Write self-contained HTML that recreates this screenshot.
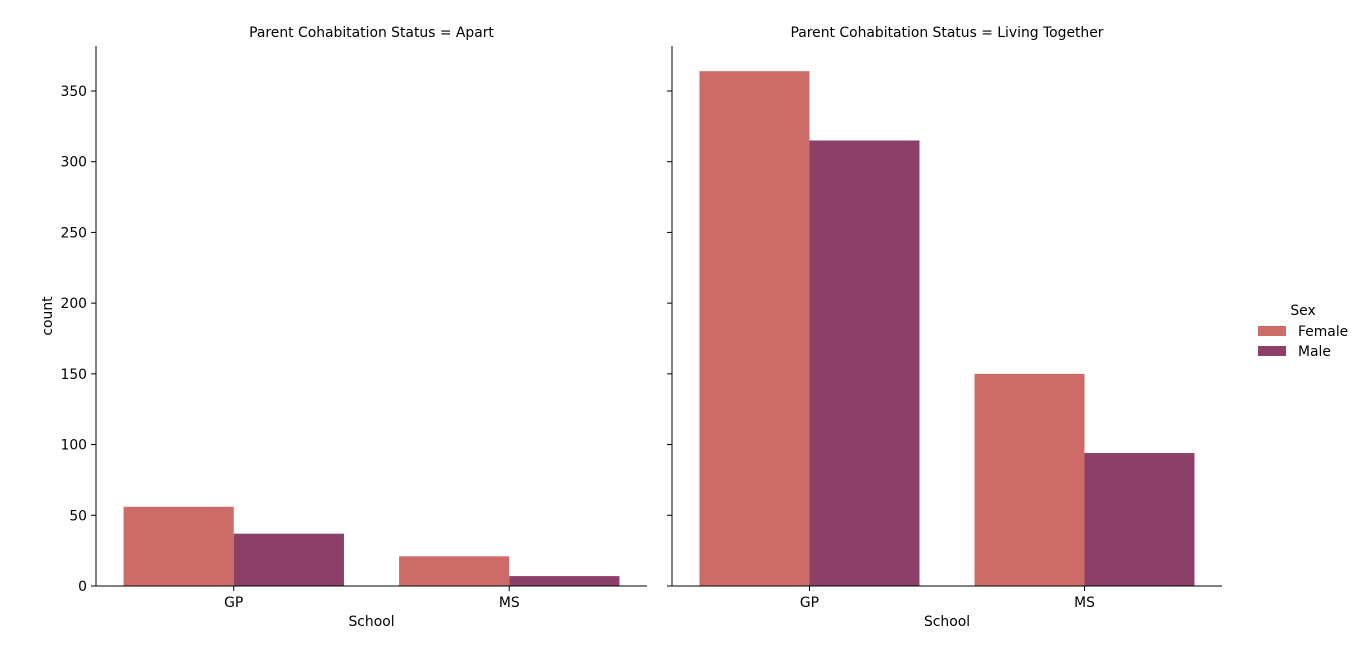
<!DOCTYPE html>
<html><head><meta charset="utf-8"><style>
body{margin:0;background:#fff;font-family:"Liberation Sans","DejaVu Sans",sans-serif;}
svg text{font-family:"DejaVu Sans","Liberation Sans",sans-serif;font-size:13.9px;fill:#000}
</style></head><body>
<svg id="c" width="1360" height="663"></svg>
<script>
const categories=["GP","MS"];
const panels=["Apart","Living Together"];
const femaleApart=[56,21];
const maleApart=[37,7];
const femaleTogether=[364,150];
const maleTogether=[315,94];
const yTicks=[0,50,100,150,200,250,300,350];
const seriesNames=["Female","Male"];
const colors=["#cd6b69","#8c4068"];
const svg=document.getElementById('c');
const NS='http://www.w3.org/2000/svg';
function mk(t,a,p){const e=document.createElementNS(NS,t);for(const k in a)e.setAttribute(k,a[k]);(p||svg).appendChild(e);return e;}
const y0=586,yTop=46,yMax=381.8;
function y(v){return y0-v*(y0-yTop)/yMax;}
const panelX=[[96,647],[672,1222]];
const data=[[femaleApart,maleApart],[femaleTogether,maleTogether]];
panels.forEach((p,pi)=>{
  const [x0,x1]=panelX[pi];const cw=(x1-x0)/categories.length;const bw=cw*0.8/2;
  const g=mk('g',{});
  
  
  categories.forEach((c,ci)=>{
    const cx=x0+cw*(ci+0.5);
    data[pi].forEach((s,si)=>{
      const r=mk('rect',{x:cx-bw+si*bw,y:y(s[ci]),width:bw,height:y0-y(s[ci]),fill:colors[si]},g);
      
      
    });
    mk('line',{x1:cx,x2:cx,y1:y0,y2:y0+5,stroke:'#000'},g);
    const t=mk('text',{x:cx,y:y0+21,'text-anchor':'middle'},g);t.textContent=c;
    
  });
  yTicks.forEach(v=>{
    mk('line',{x1:x0-5,x2:x0,y1:y(v),y2:y(v),stroke:'#000'},g);
    if(pi===0){const t=mk('text',{x:x0-9,y:y(v)+5,'text-anchor':'end'},g);t.textContent=v;
      }
  });
  mk('line',{x1:x0,x2:x0,y1:yTop,y2:y0,stroke:'#000'},g);
  mk('line',{x1:x0,x2:x1,y1:y0,y2:y0,stroke:'#000'},g);
  const tt=mk('text',{x:(x0+x1)/2,y:37,'text-anchor':'middle'},g);tt.textContent='Parent Cohabitation Status = '+p;
  
  const xl=mk('text',{x:(x0+x1)/2,y:626,'text-anchor':'middle'},g);xl.textContent='School';
  
});
const yl=mk('text',{x:52,y:316,'text-anchor':'middle',transform:'rotate(-90 52 316)'});yl.textContent='count';

const lg=mk('g',{});

const lt=mk('text',{x:1303,y:315,'text-anchor':'middle'},lg);lt.textContent='Sex';
seriesNames.forEach((n,i)=>{
  mk('rect',{x:1258,y:326+i*20,width:28,height:10,fill:colors[i]},lg);
  const t=mk('text',{x:1298,y:336+i*20},lg);t.textContent=n;
  
});
</script>
</body></html>
